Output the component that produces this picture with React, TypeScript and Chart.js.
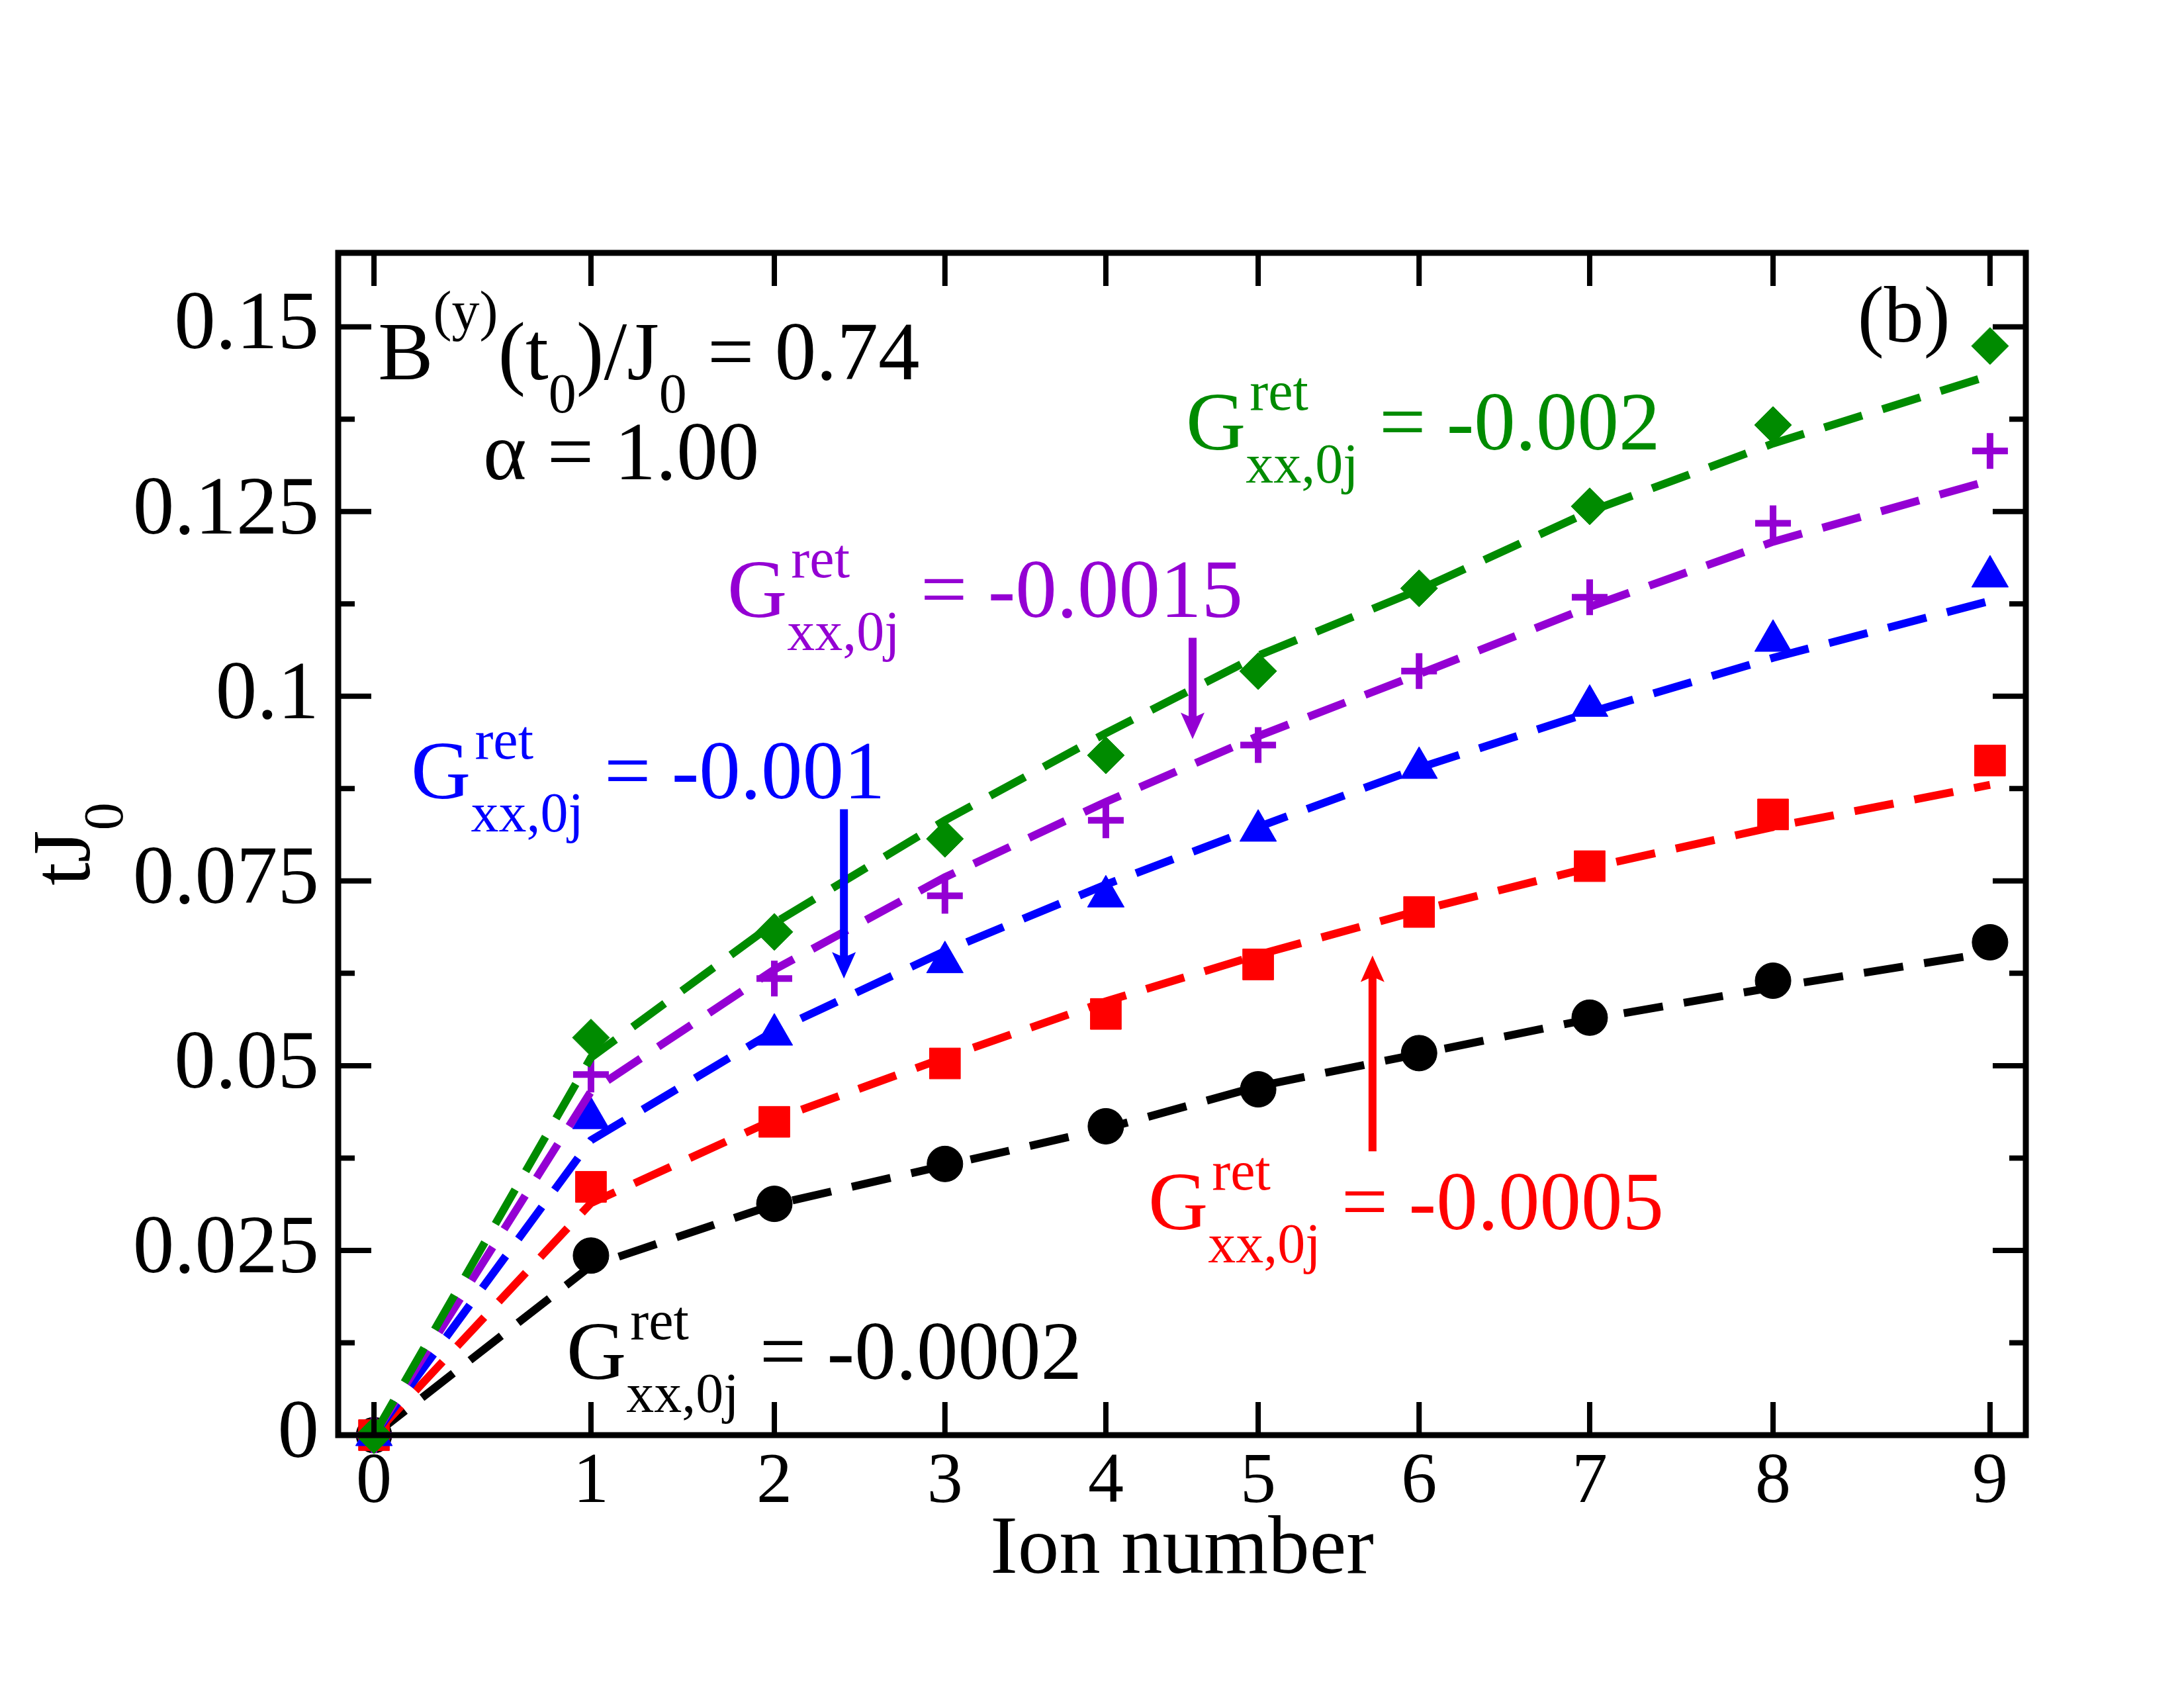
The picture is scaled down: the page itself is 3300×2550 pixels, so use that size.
import React, { useEffect, useRef } from "react";
import { Chart, registerables } from "chart.js";

Chart.register(...registerables);

// ---------------- data ----------------
const ionLabels = ["0", "1", "2", "3", "4", "5", "6", "7", "8", "9"];
// equilibrium ion positions along the trap axis (dimensionless)
const ionPositions = [-4.424, -3.236, -2.232, -1.298, -0.417, 0.417, 1.298, 2.232, 3.236, 4.424];
const xRange = [-4.62, 4.62];

const yTickValues = [0, 0.025, 0.05, 0.075, 0.1, 0.125, 0.15];
const yTickLabels = ["0", "0.025", "0.05", "0.075", "0.1", "0.125", "0.15"];
const yMinorValues = [0.0125, 0.0375, 0.0625, 0.0875, 0.1125, 0.1375];
const yRange = [0, 0.16];

const couplingLabels = ["-0.0002", "-0.0005", "-0.001", "-0.0015", "-0.002"];

const pointsG0002 = [0, 0.0243, 0.0313, 0.0367, 0.0418, 0.0468, 0.0517, 0.0565, 0.0615, 0.0667];
const fitG0002 = [0, 0.0229, 0.0312, 0.0365, 0.0415, 0.0472, 0.0516, 0.0563, 0.0606, 0.0653];

const pointsG0005 = [0, 0.0336, 0.0424, 0.0503, 0.057, 0.0637, 0.0708, 0.077, 0.084, 0.0913];
const fitG0005 = [0, 0.0314, 0.0427, 0.0511, 0.0587, 0.065, 0.071, 0.0768, 0.0823, 0.088];

const pointsG001 = [0, 0.0429, 0.0542, 0.064, 0.0729, 0.0818, 0.0903, 0.0987, 0.1075, 0.1162];
const fitG001 = [0, 0.0399, 0.0547, 0.0655, 0.0745, 0.0823, 0.0903, 0.0978, 0.1052, 0.1129];

const pointsG0015 = [0, 0.0488, 0.0618, 0.073, 0.0832, 0.0934, 0.1034, 0.1134, 0.1234, 0.1332];
const fitG0015 = [0, 0.0465, 0.063, 0.0755, 0.0857, 0.0946, 0.103, 0.1121, 0.1209, 0.1292];

const pointsG002 = [0, 0.0538, 0.0681, 0.0807, 0.092, 0.1034, 0.1146, 0.1257, 0.1367, 0.1474];
const fitG002 = [0, 0.0511, 0.0693, 0.0832, 0.095, 0.1055, 0.1144, 0.125, 0.1342, 0.1434];

// ---------------- styles ----------------
const BLACK = "#000000";
const RED = "#ff0000";
const BLUE = "#0000ff";
const VIOLET = "#9400d3";
const GREEN = "#008b00";

const FAMILY = '"Liberation Serif", "Times New Roman", serif';
const MAIN = 125;
const SMALL = 84;
const fontStr = (s: number) => `${s}px ${FAMILY}`;

type Series = {
  color: string;
  pts: number[];
  fit: number[];
  style: string;
  r: number;
  bw: number;
};

// drawn top-most first
const series: Series[] = [
  { color: GREEN, pts: pointsG002, fit: fitG002, style: "rectRot", r: 28, bw: 1 },
  { color: VIOLET, pts: pointsG0015, fit: fitG0015, style: "cross", r: 27, bw: 10 },
  { color: BLUE, pts: pointsG001, fit: fitG001, style: "triangle", r: 32, bw: 1 },
  { color: RED, pts: pointsG0005, fit: fitG0005, style: "rect", r: 33, bw: 1 },
  { color: BLACK, pts: pointsG0002, fit: fitG0002, style: "circle", r: 27, bw: 1 },
];

type Seg = { t: string; k?: "n" | "sup" | "sub"; supOff?: number } | { sup: string; sub: string };
type Ann = { x: number; y: number; color: string; size?: number; segs: Seg[] };

const gLabel = (v: string): Seg[] => [{ t: "G" }, { sup: "ret", sub: "xx,0j" }, { t: " = " + v }];

const annotations: Ann[] = [
  {
    x: -4.402,
    y: 0.1429,
    color: BLACK,
    segs: [
      { t: "B" },
      { t: "(y)", k: "sup", supOff: -75 },
      { t: "(t" },
      { t: "0", k: "sub" },
      { t: ")/J" },
      { t: "0", k: "sub" },
      { t: " = 0.74" },
    ],
  },
  { x: -3.826, y: 0.1294, color: BLACK, segs: [{ t: "α = 1.00" }] },
  { x: 3.699, y: 0.148, color: BLACK, size: 120, segs: [{ t: "(b)" }] },
  { x: 0.022, y: 0.1334, color: GREEN, segs: gLabel(couplingLabels[4]) },
  { x: -2.489, y: 0.1107, color: VIOLET, segs: gLabel(couplingLabels[3]) },
  { x: -4.221, y: 0.0862, color: BLUE, segs: gLabel(couplingLabels[2]) },
  { x: -0.185, y: 0.0279, color: RED, segs: gLabel(couplingLabels[1]) },
  { x: -3.37, y: 0.0076, color: BLACK, segs: gLabel(couplingLabels[0]) },
];

const arrows = [
  { x: 0.058, from: 0.1079, to: 0.0942, color: VIOLET },
  { x: -1.851, from: 0.0847, to: 0.0618, color: BLUE },
  { x: 1.043, from: 0.0384, to: 0.0649, color: RED },
];

function drawRich(ctx: CanvasRenderingContext2D, x: number, y: number, segs: Seg[], color: string, size: number) {
  ctx.save();
  ctx.fillStyle = color;
  ctx.textAlign = "left";
  ctx.textBaseline = "alphabetic";
  let cx = x;
  for (const s of segs) {
    if ("sup" in s) {
      ctx.font = fontStr(SMALL);
      ctx.fillText(s.sup, cx + 6, y - 60);
      ctx.fillText(s.sub, cx, y + 50);
      cx += Math.max(ctx.measureText(s.sup).width + 6, ctx.measureText(s.sub).width);
    } else {
      const k = s.k || "n";
      if (k === "n") {
        ctx.font = fontStr(size);
        ctx.fillText(s.t, cx, y);
      } else if (k === "sup") {
        ctx.font = fontStr(SMALL);
        ctx.fillText(s.t, cx, y + (s.supOff ?? -60));
      } else {
        ctx.font = fontStr(SMALL);
        ctx.fillText(s.t, cx, y + 50);
      }
      cx += ctx.measureText(s.t).width;
    }
  }
  ctx.restore();
}

const framePlugin = {
  id: "framePlugin",
  afterDatasetsDraw(chart: any) {
    const { ctx, chartArea } = chart;
    const xs = chart.scales.x;
    const ys = chart.scales.y;
    const { left, right, top, bottom } = chartArea;
    ctx.save();
    ctx.strokeStyle = BLACK;
    ctx.lineCap = "butt";
    // ticks
    ctx.lineWidth = 8;
    const MAJ = 50;
    const MIN = 25;
    ctx.beginPath();
    for (const v of ionPositions) {
      const px = xs.getPixelForValue(v);
      ctx.moveTo(px, bottom);
      ctx.lineTo(px, bottom - MAJ);
      ctx.moveTo(px, top);
      ctx.lineTo(px, top + MAJ);
    }
    for (const v of yTickValues) {
      const py = ys.getPixelForValue(v);
      ctx.moveTo(left, py);
      ctx.lineTo(left + MAJ, py);
      ctx.moveTo(right, py);
      ctx.lineTo(right - MAJ, py);
    }
    for (const v of yMinorValues) {
      const py = ys.getPixelForValue(v);
      ctx.moveTo(left, py);
      ctx.lineTo(left + MIN, py);
      ctx.moveTo(right, py);
      ctx.lineTo(right - MIN, py);
    }
    ctx.stroke();
    // frame
    ctx.lineWidth = 9;
    ctx.strokeRect(left, top, right - left, bottom - top);
    ctx.restore();
  },
  afterDraw(chart: any) {
    const { ctx, chartArea } = chart;
    const xs = chart.scales.x;
    const ys = chart.scales.y;
    // annotations
    for (const a of annotations) {
      drawRich(ctx, xs.getPixelForValue(a.x), ys.getPixelForValue(a.y), a.segs, a.color, a.size ?? MAIN);
    }
    // arrows
    for (const ar of arrows) {
      const px = xs.getPixelForValue(ar.x);
      const p1 = ys.getPixelForValue(ar.from);
      const p2 = ys.getPixelForValue(ar.to);
      const dir = p2 > p1 ? 1 : -1;
      const HL = 40;
      const HW = 18;
      ctx.save();
      ctx.strokeStyle = ar.color;
      ctx.fillStyle = ar.color;
      ctx.lineWidth = 12;
      ctx.lineCap = "butt";
      ctx.beginPath();
      ctx.moveTo(px, p1);
      ctx.lineTo(px, p2 - dir * HL * 0.7);
      ctx.stroke();
      ctx.beginPath();
      ctx.moveTo(px, p2);
      ctx.lineTo(px - HW, p2 - dir * HL);
      ctx.lineTo(px, p2 - dir * HL * 0.8);
      ctx.lineTo(px + HW, p2 - dir * HL);
      ctx.closePath();
      ctx.fill();
      ctx.restore();
    }
    // y axis title tJ_0
    ctx.save();
    ctx.font = fontStr(MAIN);
    const w1 = ctx.measureText("tJ").width;
    ctx.font = fontStr(SMALL);
    const w2 = ctx.measureText("0").width;
    const cy = (chartArea.top + chartArea.bottom) / 2;
    ctx.translate(chartArea.left - 376, cy + (w1 + w2) / 2);
    ctx.rotate(-Math.PI / 2);
    ctx.fillStyle = BLACK;
    ctx.textAlign = "left";
    ctx.textBaseline = "alphabetic";
    ctx.font = fontStr(MAIN);
    ctx.fillText("tJ", 0, 0);
    ctx.font = fontStr(SMALL);
    ctx.fillText("0", w1, 50);
    ctx.restore();
  },
};

export default function App() {
  const ref = useRef<HTMLCanvasElement | null>(null);

  useEffect(() => {
    const canvas = ref.current;
    if (!canvas) return;

    const datasets: any[] = [];
    series.forEach((s, i) => {
      datasets.push({
        type: "line",
        data: ionPositions.map((x, j) => ({ x, y: s.fit[j] })),
        borderColor: s.color,
        borderWidth: 12,
        borderDash: [60, 32],
        borderCapStyle: "butt",
        pointRadius: 0,
        fill: false,
        tension: 0,
        order: 2 * i,
        clip: false,
      });
      datasets.push({
        type: "line",
        showLine: false,
        data: ionPositions.map((x, j) => ({ x, y: s.pts[j] })),
        pointStyle: s.style,
        pointRadius: s.r,
        pointHoverRadius: s.r,
        backgroundColor: s.color,
        borderColor: s.color,
        pointBackgroundColor: s.color,
        pointBorderColor: s.color,
        pointBorderWidth: s.bw,
        order: 2 * i + 1,
        clip: false,
      });
    });

    const chart = new Chart(canvas, {
      type: "line",
      data: { datasets },
      options: {
        responsive: false,
        maintainAspectRatio: false,
        devicePixelRatio: 1,
        animation: false,
        events: [],
        layout: { padding: { left: 0, top: 382, right: 239, bottom: 0 } },
        plugins: {
          legend: { display: false },
          tooltip: { enabled: false },
        },
        scales: {
          x: {
            type: "linear",
            position: "bottom",
            min: xRange[0],
            max: xRange[1],
            grid: { display: false },
            border: { display: false },
            afterBuildTicks: (scale: any) => {
              scale.ticks = ionPositions.map((v) => ({ value: v }));
            },
            afterFit: (scale: any) => {
              scale.height = 382;
            },
            ticks: {
              autoSkip: false,
              maxRotation: 0,
              minRotation: 0,
              padding: 0,
              color: BLACK,
              font: { family: FAMILY, size: 108 },
              callback: (_v: any, i: number) => ionLabels[i],
            },
            title: {
              display: true,
              text: "Ion number",
              color: BLACK,
              font: { family: FAMILY, size: MAIN },
              padding: { top: 0, bottom: 132 },
            },
          },
          y: {
            type: "linear",
            position: "left",
            min: yRange[0],
            max: yRange[1],
            grid: { display: false },
            border: { display: false },
            afterBuildTicks: (scale: any) => {
              scale.ticks = yTickValues.map((v) => ({ value: v }));
            },
            afterFit: (scale: any) => {
              scale.width = 511;
            },
            ticks: {
              padding: 21,
              color: BLACK,
              font: { family: FAMILY, size: MAIN },
              callback: (_v: any, i: number) => yTickLabels[i],
            },
          },
        },
      } as any,
      plugins: [framePlugin],
    });

    return () => chart.destroy();
  }, []);

  return (
    <div style={{ position: "absolute", left: 0, top: 0, width: 3300, height: 2550, background: "#ffffff" }}>
      <canvas ref={ref} width={3300} height={2550} style={{ width: "3300px", height: "2550px", display: "block" }} />
    </div>
  );
}
